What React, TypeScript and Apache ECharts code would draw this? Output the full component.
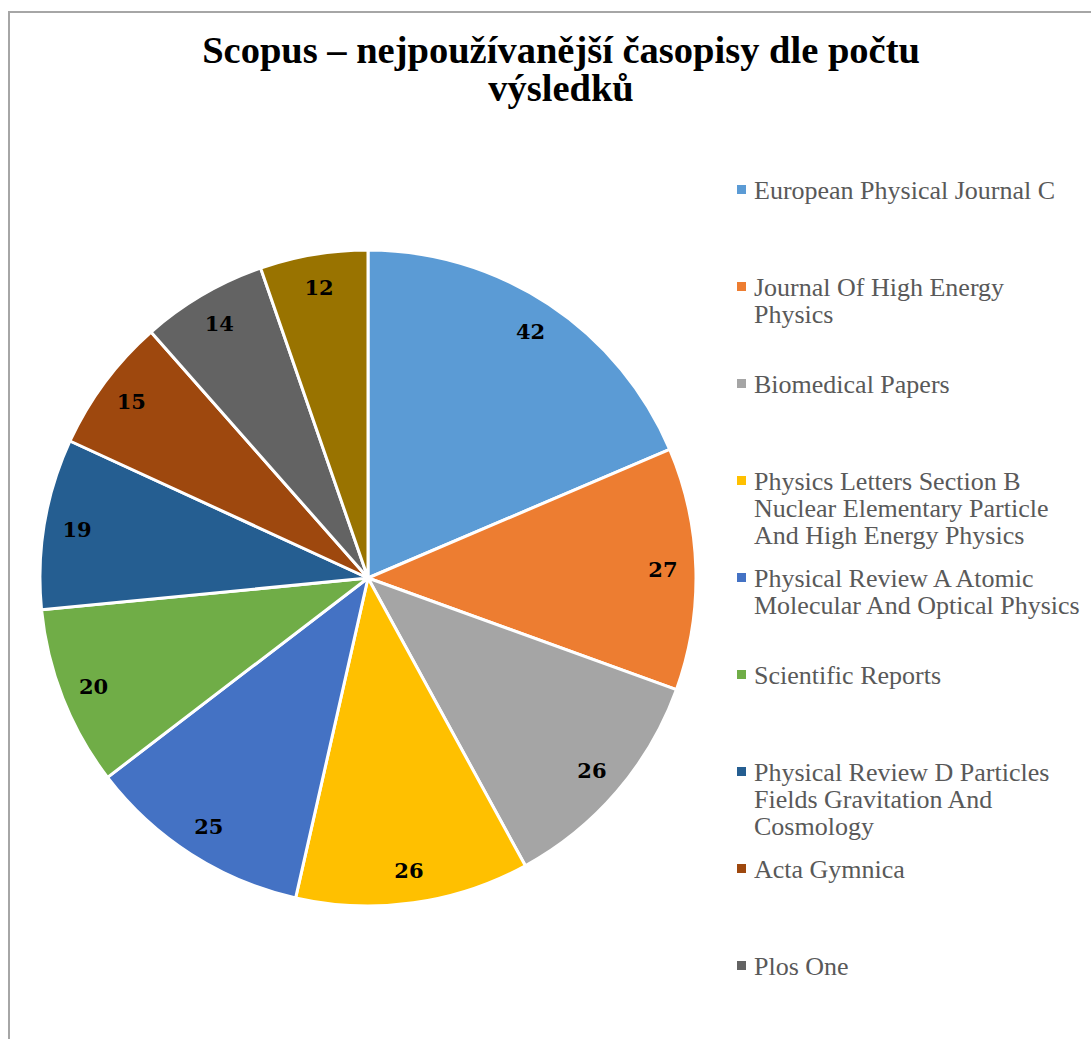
import React, { useEffect, useRef } from "react";
import * as echarts from "echarts";

const titleText = "Scopus – nejpoužívanější časopisy dle počtu\nvýsledků";
const journals = [
  "European Physical Journal C",
  "Journal Of High Energy Physics",
  "Biomedical Papers",
  "Physics Letters Section B Nuclear Elementary Particle And High Energy Physics",
  "Physical Review A Atomic Molecular And Optical Physics",
  "Scientific Reports",
  "Physical Review D Particles Fields Gravitation And Cosmology",
  "Acta Gymnica",
  "Plos One",
  "Other",
];
const legendLines = [
  ["European Physical Journal C"],
  ["Journal Of High Energy", "Physics"],
  ["Biomedical Papers"],
  ["Physics Letters Section B", "Nuclear Elementary Particle", "And High Energy Physics"],
  ["Physical Review A Atomic", "Molecular And Optical Physics"],
  ["Scientific Reports"],
  ["Physical Review D Particles", "Fields Gravitation And", "Cosmology"],
  ["Acta Gymnica"],
  ["Plos One"],
];
const counts = [42, 27, 26, 26, 25, 20, 19, 15, 14, 12];
const colors = [
  "#5B9BD5", "#ED7D31", "#A5A5A5", "#FFC000", "#4472C4",
  "#70AD47", "#255E91", "#9E480E", "#636363", "#997300",
];

export default function App() {
  const ref = useRef<HTMLDivElement>(null);
  useEffect(() => {
    if (!ref.current) return;
    const chart = echarts.init(ref.current, null, { renderer: "svg" });
    const cx = 368;
    const cy = 578;
    const R = 328;
    const data = journals.map((n, i) => ({
      name: n,
      value: counts[i],
      itemStyle: { color: colors[i] },
    }));
    const legendGraphics: any[] = [];
    legendLines.forEach((lines, i) => {
      const y = 190 + i * 97;
      legendGraphics.push({
        type: "rect",
        shape: { x: 737, y: y - 5, width: 9, height: 9 },
        style: { fill: colors[i] },
      });
      legendGraphics.push({
        type: "text",
        x: 754,
        y: y - 13,
        style: {
          text: lines.join("\n"),
          font: '26px "Liberation Serif"',
          fill: "#595959",
          lineHeight: 27,
          textVerticalAlign: "top",
        },
      });
    });
    chart.setOption({
      animation: false,
      backgroundColor: "#ffffff",
      title: {
        text: titleText,
        left: 556,
        top: 26,
        textAlign: "center",
        textStyle: {
          fontFamily: "Liberation Serif",
          fontWeight: "bold",
          fontSize: 38.5,
          lineHeight: 38,
          color: "#000000",
        },
      },
      graphic: [
        {
          type: "polyline",
          shape: { points: [[9, 1045], [9, 12], [1095, 12]] },
          style: { stroke: "#a6a6a6", lineWidth: 2, fill: null },
        },
        ...legendGraphics,
      ],
      series: [
        {
          type: "pie",
          center: [cx, cy],
          radius: [0, R],
          startAngle: 90,
          clockwise: true,
          data,
          label: { show: false },
          labelLine: { show: false },
          itemStyle: { borderColor: "#ffffff", borderWidth: 3 },
          silent: true,
        },
        {
          type: "pie",
          center: [cx, cy],
          radius: [256, R],
          startAngle: 90,
          clockwise: true,
          data: journals.map((n, i) => ({ name: n, value: counts[i] })),
          itemStyle: { color: "rgba(0,0,0,0)", borderWidth: 0 },
          label: {
            show: true,
            position: "inside",
            formatter: "{c}",
            fontFamily: "DejaVu Serif",
            fontWeight: "bold",
            fontSize: 21,
            color: "#000000",
          },
          labelLine: { show: false },
          silent: true,
        },
      ],
    });
    return () => chart.dispose();
  }, []);
  return (
    <div
      ref={ref}
      style={{ position: "fixed", left: 0, top: 0, width: 1091, height: 1039 }}
    />
  );
}
